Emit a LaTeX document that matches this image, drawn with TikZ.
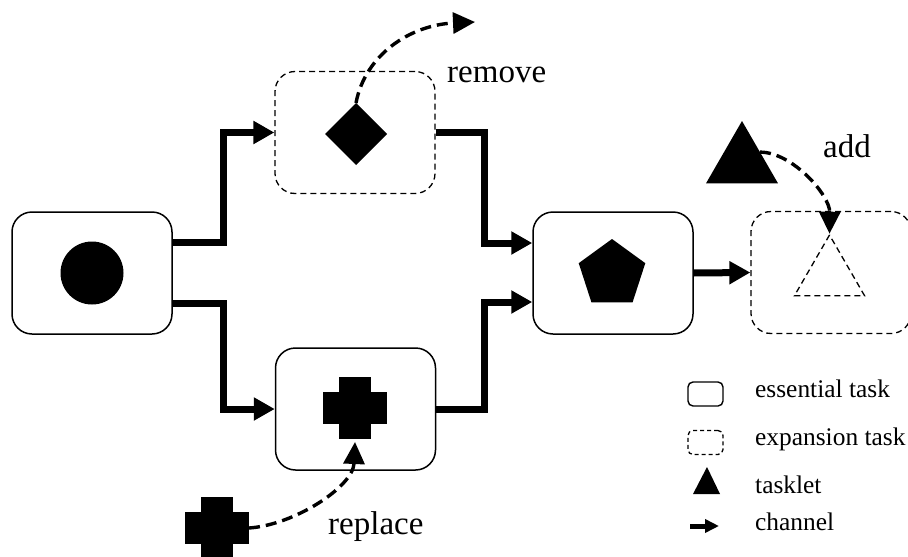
\documentclass[tikz,border=0pt]{standalone}
\usepackage{fontspec}
\setmainfont{Liberation Serif}
\usetikzlibrary{arrows.meta,shapes.geometric}

% blocky plus sign centred on a named node
\newcommand\blockcross[1]{%
  \fill ([shift={(-16,-31)}]#1.center) rectangle ([shift={(16,31)}]#1.center);
  \fill ([shift={(-32,-16)}]#1.center) rectangle ([shift={(32,16)}]#1.center);}

\begin{document}
\begin{tikzpicture}[x=1pt,y=-1pt,
  task/.style={draw, line width=1.5pt, rounded corners=20pt, minimum width=160pt,
    minimum height=122pt, inner sep=0pt},
  exptask/.style={task, line width=1.3pt, dash pattern=on 6pt off 4pt},
  chan/.style={line width=7pt, -{Triangle[length=21pt,width=22pt]}},
  move/.style={line width=3.4pt, dash pattern=on 11pt off 6pt,
    -{Triangle[length=22pt,width=21pt]}},
  shapefill/.style={fill=black, inner sep=0pt, outer sep=0pt},
  crossbox/.style={inner sep=0pt, outer sep=0pt, minimum width=64pt, minimum height=62pt},
  lbl/.style={inner sep=0pt, anchor=base west, font=\fontsize{33}{38}\selectfont},
  legtxt/.style={inner sep=0pt, anchor=base west, font=\fontsize{25.4}{30}\selectfont},
  keybox/.style={draw, line width=1.4pt, rounded corners=5pt, minimum width=35pt,
    minimum height=24pt, inner sep=0pt},
]
\useasboundingbox (0,0) rectangle (908,557);

% tasks
\node[task] (A) at (92,273) {};
\node[exptask] (B) at (355,132.5) {};
\node[task] (C) at (355.5,409) {};
\node[task] (D) at (613,273) {};
\node[exptask] (E) at (831,272.5) {};

% tasklets inside the tasks
\node[shapefill, circle, minimum size=63pt] (circ) at (A) {};
\node[shapefill, diamond, minimum size=62pt] (dia) at (356,134) {};
\node[shapefill, regular polygon, regular polygon sides=5, minimum size=70pt] (pent) at (612,274) {};
\node[crossbox] (crC) at (355,408) {};
\blockcross{crC}
\node[regular polygon, regular polygon sides=3, minimum size=81pt, inner sep=0pt,
  draw, line width=1.3pt, dash pattern=on 6pt off 4pt] (slot) at (829.5,275.5) {};

% tasklets outside the graph
\node[shapefill, regular polygon, regular polygon sides=3, minimum size=83pt] (tri) at (742,162.5) {};
\node[crossbox] (crL) at (217,528) {};
\blockcross{crL}
\coordinate (gone) at (475,22);

% channels
\draw[chan] ([yshift=31pt]A.east) -- ++(51,0) |- (B.west);
\draw[chan] ([yshift=-30pt]A.east) -- ++(51,0) |- (C.west);
\draw[chan] (B.east) -- ++(49,0) |- ([yshift=30pt]D.west);
\draw[chan] (C.east) -- ++(48,0) |- ([yshift=-29pt]D.west);
\draw[chan] (D.east) -- (E.west);

% reconfiguration moves
\draw[move] (dia.north) .. controls (365,55) and (410,25) .. (gone);
\draw[move] (tri.side 3) .. controls (792,152) and (830,195) .. (slot.corner 1);
\draw[move] (crL.east) .. controls +(45,-3) and +(-2,45) .. ([yshift=-3pt]crC.south);

\node[lbl] (lremove) at (447,82) {remove};
\node[lbl] (ladd) at (823,157) {add};
\node[lbl] (lreplace) at (328,534) {replace};

% legend
\node[keybox] (kess) at (705.5,394) {};
\node[keybox, line width=1.3pt, dash pattern=on 4pt off 3pt] (kexp) at (705.5,442.5) {};
\fill (693,494) -- (707,467) -- (720,494) -- cycle;
\coordinate (kc1) at (690,526);
\coordinate (kc2) at (719,526);
\draw[line width=5pt, -{Triangle[length=14pt,width=13pt]}] (kc1) -- (kc2);
\node[legtxt] (tess) at (755,397) {essential task};
\node[legtxt] (texp) at (755,445) {expansion task};
\node[legtxt] (ttask) at (755,493) {tasklet};
\node[legtxt] (tchan) at (755,530) {channel};
\end{tikzpicture}
\end{document}
